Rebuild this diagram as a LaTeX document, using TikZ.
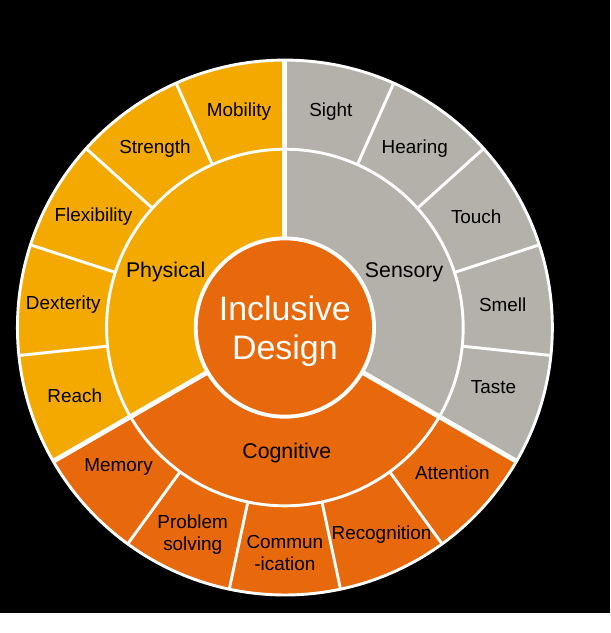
\documentclass[tikz,border=0pt]{standalone}
\usepackage{fontspec}
\setmainfont{Liberation Sans}
\usetikzlibrary{calc}

\definecolor{physyellow}{HTML}{F4A900}
\definecolor{sensgray}{HTML}{B4B1AB}
\definecolor{cogorange}{HTML}{E8680C}

\begin{document}
\begin{tikzpicture}[
    x=1pt, y=1pt,
    sector/.style={draw=none},
    ringline/.style={draw=white, line width=3pt},
    divider/.style={draw=white, line width=3pt},
    maindivider/.style={draw=white, line width=5pt},
    outerlabel/.style={font=\fontsize{19.5}{23}\selectfont, text=black, align=center, inner sep=0pt},
    midlabel/.style={font=\fontsize{22}{25}\selectfont, text=black, inner sep=0pt},
    centerlabel/.style={font=\fontsize{35}{40}\selectfont, text=white, align=center, inner sep=0pt}
]

% background and frame
\fill[black] (-294,-295) rectangle (336,338);

% three main sectors
\fill[sector, physyellow] (0,0) -- (90:276) arc (90:210:276) -- cycle;
\fill[sector, sensgray] (0,0) -- (-30:276) arc (-30:90:276) -- cycle;
\fill[sector, cogorange] (0,0) -- (210:276) arc (210:330:276) -- cycle;

% rings
\draw[ringline] (0,0) circle (276);
\draw[ringline] (0,0) circle (184);

% dividers between the outer segments
\foreach \ang in {114,138,162,186,234,258,282,306,-6,18,42,66}
    \draw[divider] (\ang:184) -- (\ang:276);
\foreach \ang in {90,210,330}
    \draw[maindivider] (\ang:92) -- (\ang:276);

% centre
\node (centre) [circle, fill=cogorange, draw=white, line width=4pt, minimum size=184pt, inner sep=0pt] at (0,0) {};
\node (inclusive) [centerlabel] at (0,-4) {Inclusive\\Design};

% middle ring
\node (physical) [midlabel] at (-123,57) {Physical};
\node (sensory) [midlabel] at (123,57) {Sensory};
\node (cognitive) [midlabel] at (2,-129) {Cognitive};

% physical
\node (mobility) [outerlabel] at (102:228) {Mobility};
\node (strength) [outerlabel] at (126:228) {Strength};
\node (flexibility) [outerlabel] at (150:228) {Flexibility};
\node (dexterity) [outerlabel] at (174:230) {Dexterity};
\node (reach) [outerlabel] at (198:228) {Reach};

% sensory
\node (sight) [outerlabel] at (78:228) {Sight};
\node (hearing) [outerlabel] at (54:228) {Hearing};
\node (touch) [outerlabel] at (30:228) {Touch};
\node (smell) [outerlabel] at (6:226) {Smell};
\node (taste) [outerlabel] at (-16:224) {Taste};

% cognitive
\node (memory) [outerlabel] at (220:224) {Memory};
\node (problem) [outerlabel] at (246:234) {Problem\\solving};
\node (communication) [outerlabel] at (270:233) {Commun\\-ication};
\node (recognition) [outerlabel] at (295:236) {Recognition};
\node (attention) [outerlabel] at (319:229) {Attention};

\end{tikzpicture}
\end{document}
